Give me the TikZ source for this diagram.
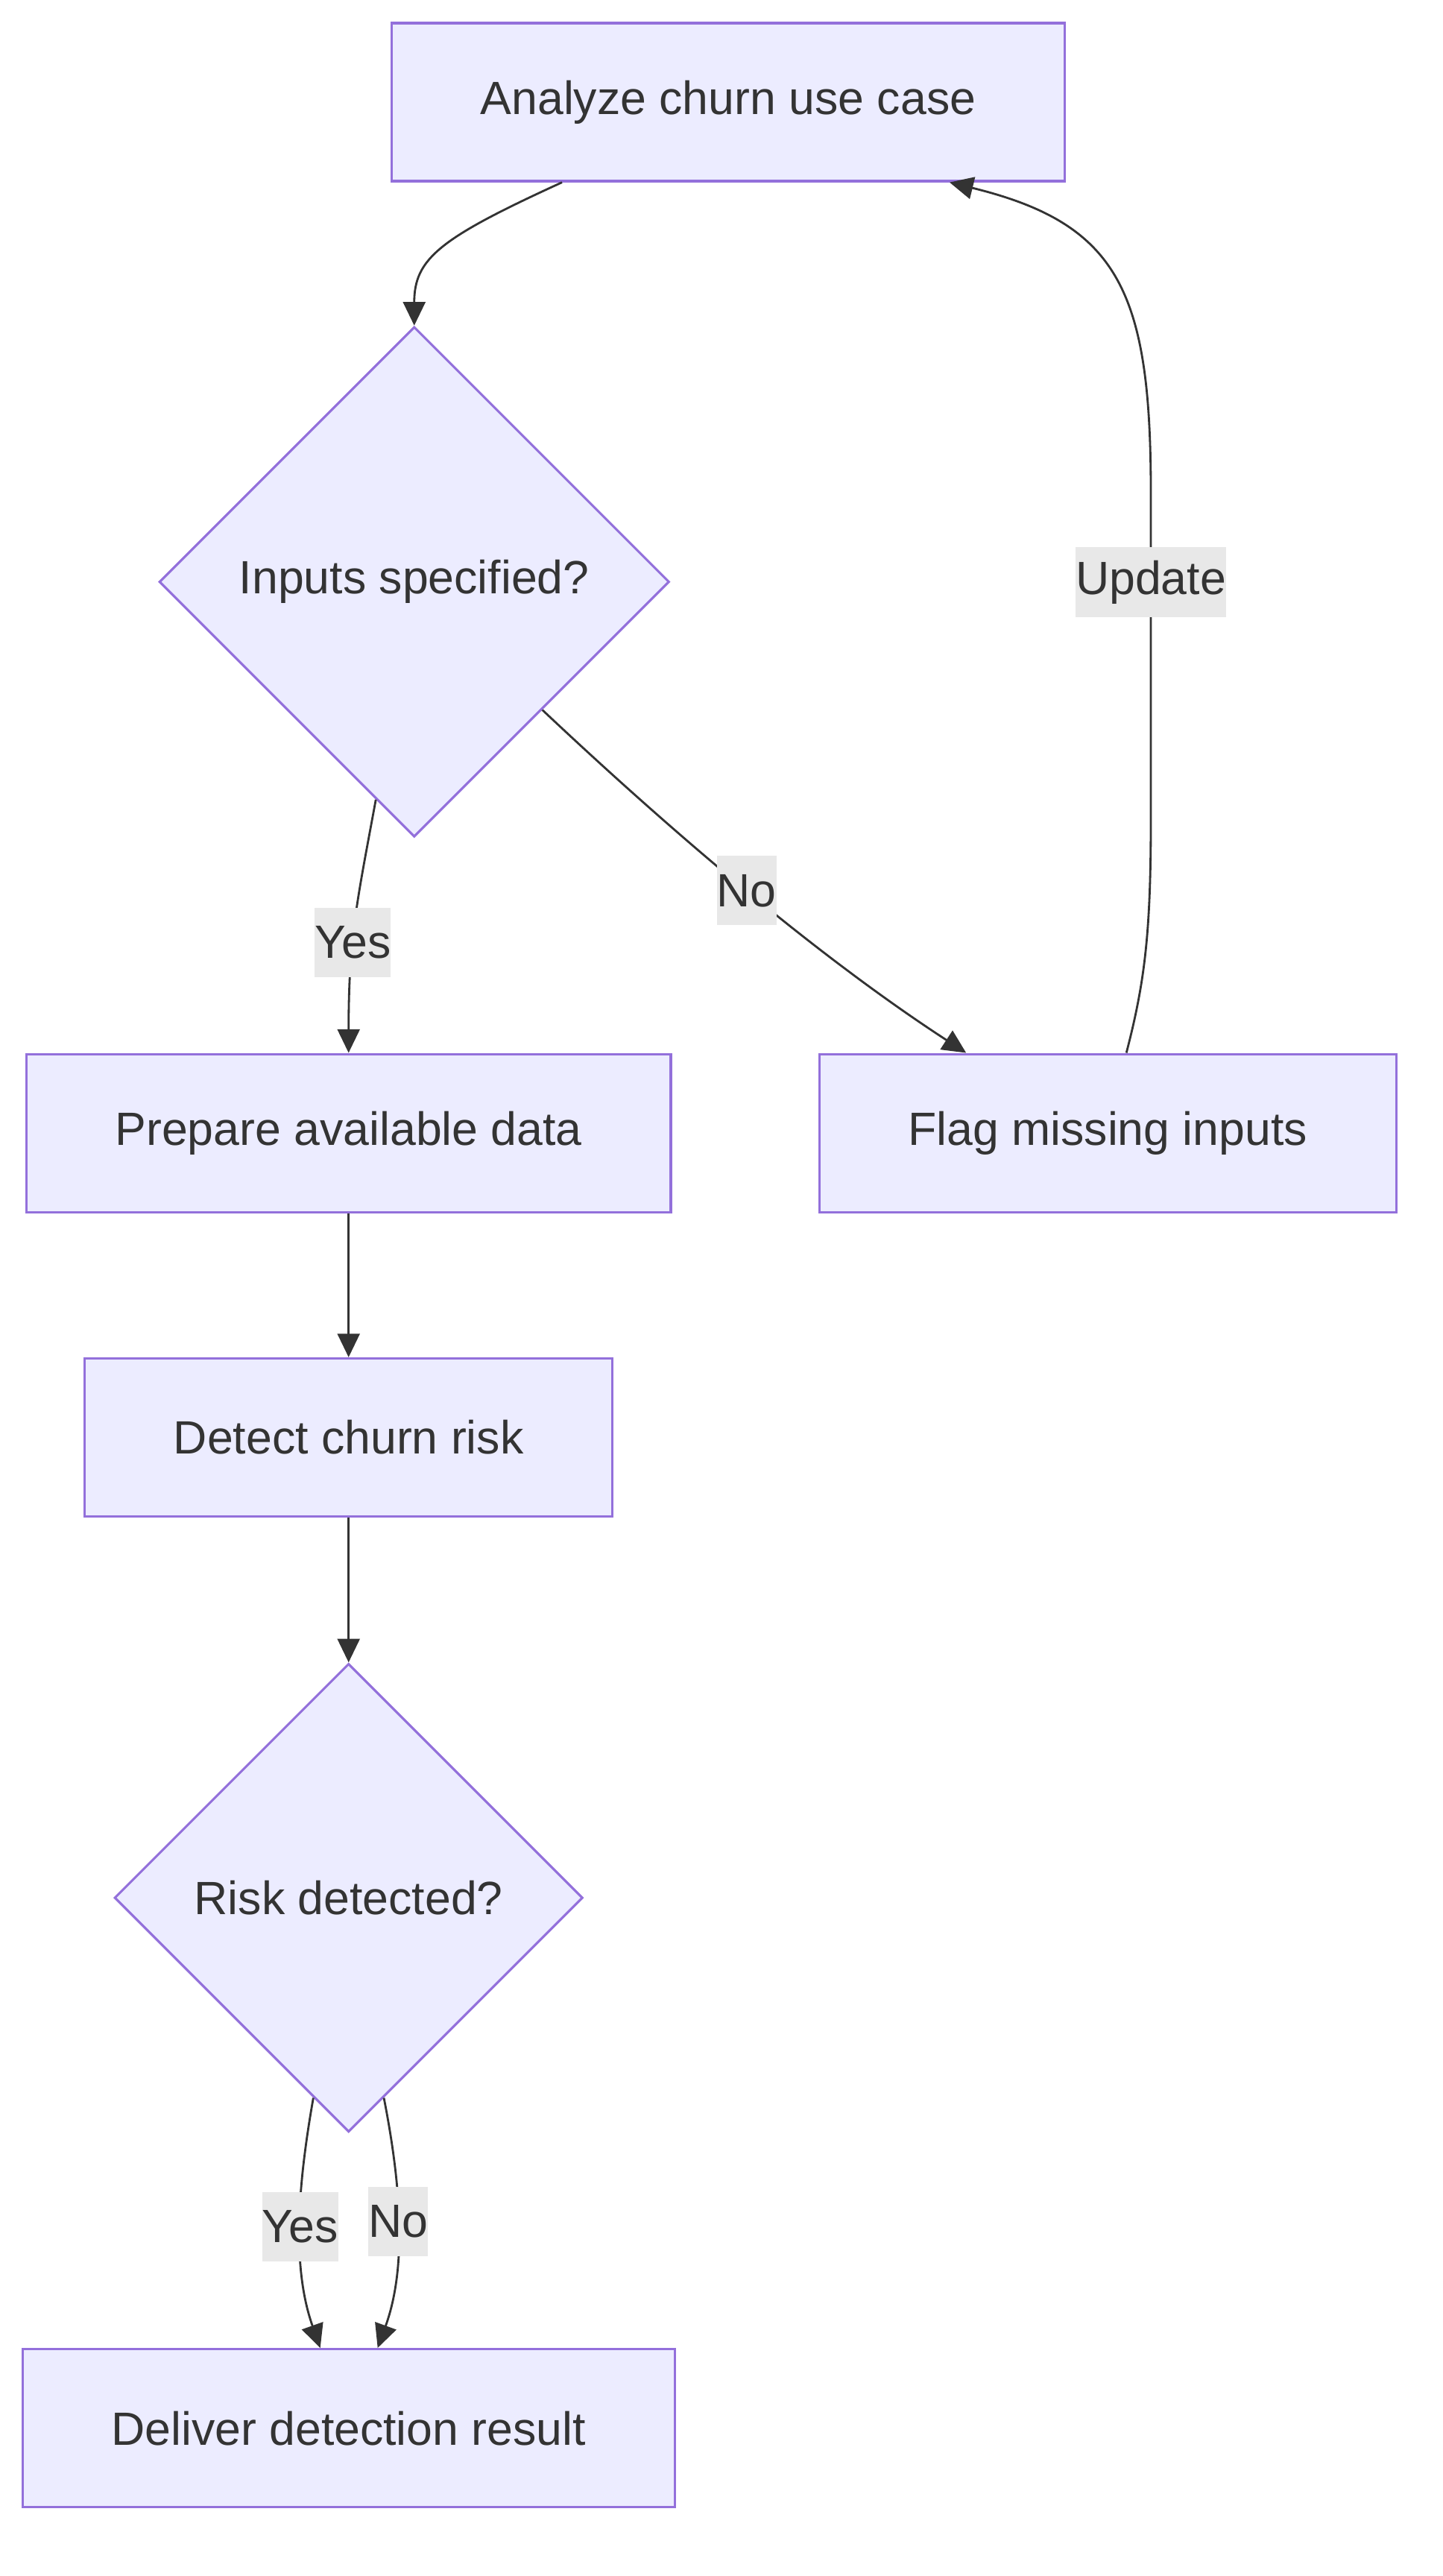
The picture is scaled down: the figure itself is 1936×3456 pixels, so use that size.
\documentclass[tikz,border=0pt]{standalone}
\usepackage{fontspec}
\setmainfont{Liberation Sans}
\usepackage{tikz}
\usetikzlibrary{positioning,arrows.meta,shapes.geometric,calc}
\definecolor{boxfill}{HTML}{ECECFF}
\definecolor{boxline}{HTML}{9370DB}
\definecolor{ink}{HTML}{333333}
\definecolor{lblbg}{HTML}{E8E8E8}
\tikzset{
  box/.style={rectangle,draw=boxline,fill=boxfill,line width=0.9pt,
    text=ink,inner xsep=1.19cm,inner ysep=0pt,minimum height=2.12cm},
  dec/.style={diamond,aspect=1,draw=boxline,fill=boxfill,line width=0.9pt,
    text=ink,inner sep=0pt},
  ar/.style={-{Triangle[length=9pt,width=8.5pt]},line width=0.8pt,draw=ink},
  lbl/.style={fill=lblbg,text=ink,inner xsep=0pt,inner ysep=0pt,minimum height=0.93cm},
}

\begin{document}
\begin{tikzpicture}[x=0.01cm,y=-0.01cm,font=\fontsize{17.8}{21}\selectfont]
  \useasboundingbox (0,0) rectangle (1936,3456);
  \node[box] (ana) at (977,137) {Analyze churn use case};
  \node[dec,minimum size=6.84cm,below=1.92cm of ana,xshift=-4.21cm] (inp) {Inputs specified?};
  \node[box,below=2.88cm of inp,xshift=-0.88cm] (prep) {Prepare available data};
  \node[box,right=1.96cm of prep] (flag) {Flag missing inputs};
  \node[box,below=1.93cm of prep] (det) {Detect churn risk};
  \node[dec,minimum size=6.28cm,below=1.94cm of det] (risk) {Risk detected?};
  \node[box,below=2.88cm of risk] (del) {Deliver detection result};
  \draw[ar] ($(ana.south)+(-223,0)$) .. controls +(-164,75) and +(0,-90) .. (inp.north);
  \draw[ar] (inp.-100) .. controls +(-25,136) and +(0,-156) .. (prep.north)
    node[lbl,pos=0.6] (ly1) {Yes};
  \draw[ar] (inp.-45) .. controls +(173,163) and +(-200,-130) .. ($(flag.north)+(-190,0)$)
    node[lbl,pos=0.5] (ln1) {No};
  \draw[ar] ($(flag.north)+(25,0)$) .. controls +(25,-96) and +(0,150) .. (1544,1100)
    -- (1544,660) node[lbl,pos=0.725] (lupd) {Update}
    .. controls (1544,390) and (1500,300) .. ($(ana.south)+(297,0)$);
  \foreach \a/\b in {prep/det,det/risk} \draw[ar] (\a)--(\b);
  \draw[ar] (risk.-100) .. controls +(-19,108) and +(-40,-113) .. ($(del.north)+(-38,0)$)
    node[lbl,pos=0.52] (ly2) {Yes};
  \draw[ar] (risk.-80) .. controls +(21,107) and +(41,-113) .. ($(del.north)+(39,0)$)
    node[lbl,pos=0.5] (ln2) {No};
\end{tikzpicture}
\end{document}
